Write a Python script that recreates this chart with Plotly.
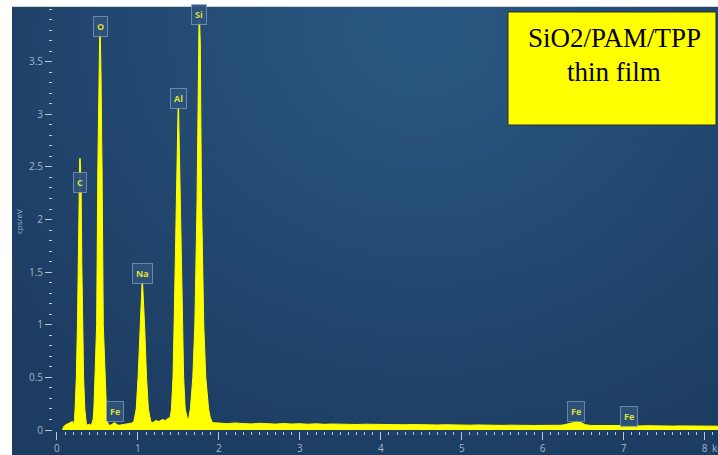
import base64
import struct
import zlib

import plotly.graph_objects as go

# EDS spectrum outline (energy in keV, intensity in cps/eV)
spectrum_kev = [
    0.07, 0.08, 0.11, 0.14, 0.17, 0.19,
    # C K
    0.204, 0.2165, 0.224, 0.239, 0.253, 0.2615, 0.269, 0.277, 0.281,
    0.287, 0.291, 0.299, 0.3065, 0.315, 0.329, 0.344, 0.3515, 0.364,
    0.38, 0.40, 0.415,
    # O K
    0.426, 0.446, 0.456, 0.469, 0.49, 0.505, 0.511, 0.517, 0.52, 0.528,
    0.534, 0.542, 0.545, 0.551, 0.557, 0.572, 0.593, 0.606, 0.616, 0.636,
    0.66, 0.69, 0.71, 0.73, 0.76, 0.80, 0.84, 0.88, 0.92,
    # Na K
    0.949, 0.979, 1.002, 1.026, 1.0355, 1.044, 1.051,
    1.057, 1.064, 1.0725, 1.082, 1.106, 1.129, 1.159,
    1.18, 1.22, 1.26, 1.30, 1.34, 1.37,
    # Al K
    1.399, 1.414, 1.4335, 1.447, 1.468, 1.4805, 1.49, 1.496,
    1.502, 1.508, 1.5175, 1.53, 1.551, 1.5645, 1.584,
    1.61, 1.625,
    # Si K
    1.64, 1.648, 1.678, 1.703, 1.73, 1.7395, 1.7455, 1.755,
    1.761, 1.7705, 1.7765, 1.786, 1.813, 1.838, 1.873, 1.893,
    1.92, 1.96,
    # background continuum
    2.0, 2.1, 2.2, 2.3, 2.4, 2.5, 2.6, 2.7, 2.8, 2.9,
    3.0, 3.1, 3.2, 3.3, 3.4, 3.5, 3.6, 3.7, 3.8, 3.9,
    4.0, 4.1, 4.2, 4.3, 4.4, 4.5, 4.6, 4.7, 4.8, 4.9,
    5.0, 5.1, 5.2, 5.3, 5.4, 5.5, 5.6, 5.7, 5.8, 5.9,
    6.0, 6.1, 6.2, 6.25, 6.3, 6.35, 6.42, 6.48, 6.53, 6.6,
    6.7, 6.8, 6.9, 7.0, 7.05, 7.1, 7.2, 7.3, 7.4, 7.5,
    7.6, 7.7, 7.8, 7.9, 8.0, 8.1, 8.2,
]
spectrum_cps = [
    0.0, 0.03, 0.05, 0.06, 0.07, 0.08,
    0.05, 0.1, 0.2, 0.5, 1.0, 1.6, 2.25, 2.45, 2.58,
    2.58, 2.45, 2.25, 1.6, 1.0, 0.5, 0.2, 0.1, 0.05,
    0.05, 0.055, 0.05,
    0.05, 0.1, 0.2, 0.5, 1.0, 2.49, 2.82, 3.35, 3.6, 3.78,
    3.78, 3.6, 3.35, 2.82, 2.49, 1.0, 0.5, 0.2, 0.1, 0.05,
    0.045, 0.06, 0.07, 0.06, 0.045, 0.05, 0.055, 0.06, 0.065,
    0.08, 0.2, 0.5, 1.0, 1.2, 1.3, 1.40,
    1.40, 1.3, 1.2, 1.0, 0.5, 0.2, 0.08,
    0.07, 0.09, 0.08, 0.1, 0.09, 0.11,
    0.12, 0.2, 0.5, 1.0, 2.0, 2.4, 2.83, 3.06,
    3.06, 2.83, 2.4, 2.0, 1.0, 0.5, 0.2,
    0.11, 0.1,
    0.15, 0.2, 0.5, 1.0, 2.16, 3.01, 3.67, 3.9,
    3.9, 3.67, 3.01, 2.16, 1.0, 0.5, 0.2, 0.12,
    0.07, 0.065,
    0.066, 0.06, 0.067, 0.061, 0.058, 0.064, 0.059, 0.056, 0.062, 0.057,
    0.06, 0.055, 0.059, 0.054, 0.057, 0.053, 0.056, 0.052, 0.055, 0.053,
    0.054, 0.051, 0.053, 0.05, 0.052, 0.049, 0.051, 0.048, 0.05, 0.047,
    0.049, 0.046, 0.048, 0.045, 0.047, 0.044, 0.046, 0.043, 0.045, 0.043,
    0.044, 0.042, 0.045, 0.047, 0.055, 0.068, 0.078, 0.068, 0.05, 0.043,
    0.041, 0.043, 0.04, 0.042, 0.046, 0.042, 0.039, 0.041, 0.038, 0.04,
    0.037, 0.039, 0.037, 0.038, 0.036, 0.037, 0.036,
]

# Element markers: label, energy (keV), label height (cps/eV)
peak_labels = ["C", "O", "Fe", "Na", "Al", "Si", "Fe", "Fe"]
peak_kev = [0.284, 0.533, 0.716, 1.056, 1.500, 1.758, 6.41, 7.07]
peak_label_cps = [2.35, 3.83, 0.18, 1.49, 3.15, 3.95, 0.18, 0.13]

x_ticks = [0, 1, 2, 3, 4, 5, 6, 7, 8]
y_ticks = [0, 0.5, 1, 1.5, 2, 2.5, 3, 3.5]

BG = "#21476f"
TICK = "#b9c7d6"
LABEL = "#a3b5c9"
YELLOW = "#ffff00"


def backdrop_png(w=96, h=60):
    """Soft navy backdrop, a little lighter towards the upper middle."""
    inner = (42, 88, 130)
    outer = (29, 60, 98)
    rows = []
    for j in range(h):
        row = bytearray([0])
        for i in range(w):
            dx = (i / (w - 1) - 0.58) / 0.75
            dy = (j / (h - 1) - 0.05) / 1.05
            t = min(1.0, (dx * dx + dy * dy) ** 0.5)
            row += bytes(int(round(a + (b - a) * t)) for a, b in zip(inner, outer))
        rows.append(bytes(row))
    raw = b"".join(rows)

    def chunk(tag, data):
        c = struct.pack(">I", len(data)) + tag + data
        return c + struct.pack(">I", zlib.crc32(tag + data) & 0xFFFFFFFF)

    png = b"\x89PNG\r\n\x1a\n"
    png += chunk(b"IHDR", struct.pack(">IIBBBBB", w, h, 8, 2, 0, 0, 0))
    png += chunk(b"IDAT", zlib.compress(raw, 9))
    png += chunk(b"IEND", b"")
    return "data:image/png;base64," + base64.b64encode(png).decode()


fig = go.Figure()
fig.add_trace(go.Scatter(
    x=spectrum_kev, y=spectrum_cps, mode="lines",
    line=dict(color=YELLOW, width=1),
    fill="tozeroy", fillcolor=YELLOW,
    hoverinfo="skip", showlegend=False,
))

for lab, ex, ey in zip(peak_labels, peak_kev, peak_label_cps):
    fig.add_annotation(
        x=ex, y=ey, xref="x", yref="y", text=f"<b>{lab}</b>", showarrow=False,
        xanchor="center", yanchor="middle",
        font=dict(family="Open Sans", size=9, color="#dede3c"),
        bgcolor="rgba(44,82,122,0.95)",
        bordercolor="rgba(150,175,205,0.6)", borderwidth=1, borderpad=3,
    )

W, H = 718, 455
L, R, T, B = 53, 0, 7, 24
pw, ph = W - L - R, H - T - B


def px(xp):
    return (xp - L) / pw


def py(yp):
    return (H - B - yp) / ph


fig.add_layout_image(
    source=backdrop_png(), xref="paper", yref="paper",
    x=px(12), y=py(7), sizex=px(W) - px(12), sizey=py(7) - py(H),
    xanchor="left", yanchor="top", sizing="stretch", layer="below",
)

# white page frame on top and left
fig.add_shape(type="rect", xref="paper", yref="paper",
              x0=px(-5), x1=px(W + 5), y0=py(7), y1=py(-5),
              fillcolor="white", line_width=0, layer="above")
fig.add_shape(type="rect", xref="paper", yref="paper",
              x0=px(-5), x1=px(12), y0=py(H + 5), y1=py(-5),
              fillcolor="white", line_width=0, layer="above")
fig.add_shape(type="line", xref="paper", yref="paper",
              x0=px(12), x1=px(W + 5), y0=py(6.5), y1=py(6.5),
              line=dict(color="#cfd3d8", width=1), layer="above")

# title box
fig.add_shape(type="rect", xref="paper", yref="paper",
              x0=px(508), x1=px(716), y0=py(125), y1=py(12),
              fillcolor=YELLOW, line=dict(color="#2a2a2a", width=1), layer="above")
for txt, yc in [("SiO2/PAM/TPP", 38), ("thin film", 72)]:
    fig.add_annotation(x=px(614), y=py(yc), xref="paper", yref="paper",
                       text=txt, showarrow=False, xanchor="center", yanchor="middle",
                       font=dict(family="Liberation Serif", size=27, color="black"))

# axis captions
fig.add_annotation(x=px(18), y=py(222), xref="paper", yref="paper",
                   text="cps/eV", textangle=-90, showarrow=False,
                   xanchor="center", yanchor="middle",
                   font=dict(family="Open Sans", size=8, color=LABEL))
fig.add_annotation(x=px(710), y=py(448), xref="paper", yref="paper",
                   text="keV", showarrow=False, xanchor="left", yanchor="middle",
                   font=dict(family="Open Sans", size=10, color=LABEL))

fig.update_layout(
    width=W, height=H,
    margin=dict(l=L, r=R, t=T, b=B, pad=0),
    paper_bgcolor=BG, plot_bgcolor="rgba(0,0,0,0)",
    showlegend=False,
    xaxis=dict(
        range=[-0.049, 8.165], showgrid=False, zeroline=False, showline=False,
        tickvals=x_ticks, ticks="outside", ticklen=8, tickwidth=1, tickcolor=TICK,
        tickfont=dict(family="Open Sans", size=10, color=LABEL),
        minor=dict(dtick=0.1, tick0=0, ticks="outside", ticklen=3,
                   tickwidth=1, tickcolor=TICK, showgrid=False),
    ),
    yaxis=dict(
        range=[-0.0095, 4.02], showgrid=False, zeroline=False, showline=False,
        tickvals=y_ticks, ticks="outside", ticklen=7, tickwidth=1, tickcolor=TICK,
        tickfont=dict(family="Open Sans", size=10, color=LABEL),
        minor=dict(dtick=0.1, tick0=0, ticks="outside", ticklen=3,
                   tickwidth=1, tickcolor=TICK, showgrid=False),
    ),
)

fig.write_html("out.html")
